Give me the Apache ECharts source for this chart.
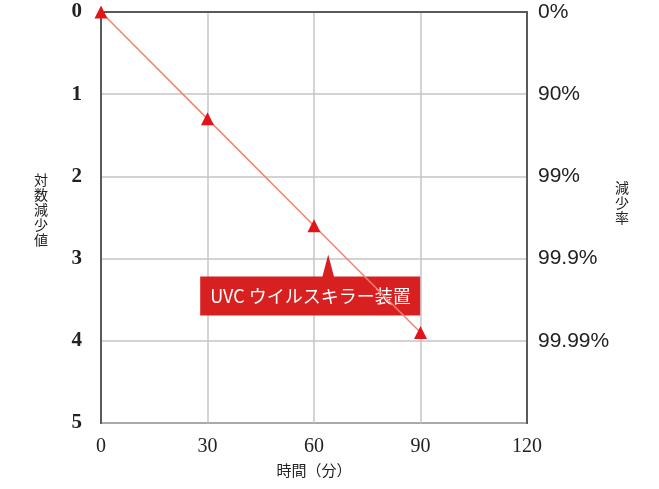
<!DOCTYPE html>
<html>
<head>
<meta charset="utf-8">
<script src="https://cdn.jsdelivr.net/npm/echarts@6/dist/echarts.min.js"></script>
<style>
  html, body { margin: 0; padding: 0; background: #fff; }
  #chart { width: 659px; height: 489px; }
</style>
</head>
<body>
<div id="chart"></div>
<script>
// Elapsed time (minutes) and measured log reduction
const minutes = [0, 30, 60, 90];
const logReduction = [0, 1.3, 2.6, 3.9];
// Reduction-rate labels for each log step on the right axis
const reductionRates = ['0%', '90%', '99%', '99.9%', '99.99%', ''];
const deviceName = 'UVC ウイルスキラー装置';
// Data point the callout points at
const calloutAnchor = [64, 2.95];

const chart = echarts.init(document.getElementById('chart'));
const frame = '#5a5a5a';
const gridLine = '#c4c4c4';
const red = '#e2141a';

chart.setOption({
  animation: false,
  grid: {
    left: 101, right: 132, top: 12, bottom: 66,
    show: true, borderColor: frame, borderWidth: 2, backgroundColor: 'transparent'
  },
  xAxis: {
    type: 'value', min: 0, max: 120, interval: 30,
    name: '時間（分）', nameLocation: 'middle', nameGap: 40,
    nameTextStyle: { fontFamily: 'Noto Sans CJK JP', fontSize: 15, color: '#222' },
    axisLine: { show: true, lineStyle: { color: frame, width: 2 } },
    axisTick: { show: false },
    axisLabel: { fontFamily: 'Liberation Serif', fontSize: 20, color: '#222', margin: 14 },
    splitLine: { show: true, lineStyle: { color: gridLine, width: 1.5 } }
  },
  yAxis: [{
    type: 'value', inverse: true, min: 0, max: 5, interval: 1,
    name: '対\n数\n減\n少\n値\n', nameLocation: 'middle', nameGap: 53, nameRotate: 0,
    nameTextStyle: { fontFamily: 'Noto Sans CJK JP', fontSize: 14, lineHeight: 15, color: '#222' },
    axisLine: { show: true, lineStyle: { color: frame, width: 2 } },
    axisTick: { show: false },
    axisLabel: { fontFamily: 'Liberation Serif', fontWeight: 'bold', fontSize: 21, color: '#222', margin: 19 },
    splitLine: { show: true, lineStyle: { color: gridLine, width: 1.5 } }
  }, {
    type: 'value', inverse: true, min: 0, max: 5, interval: 1, position: 'right',
    name: '減\n少\n率\n\n', nameLocation: 'middle', nameGap: 88, nameRotate: 0,
    nameTextStyle: { fontFamily: 'Noto Sans CJK JP', fontSize: 14, lineHeight: 15, color: '#222' },
    axisLine: { show: true, lineStyle: { color: frame, width: 2 } },
    axisTick: { show: false },
    axisLabel: {
      fontFamily: 'Liberation Sans', fontSize: 21, color: '#222', margin: 11,
      formatter: v => reductionRates[Math.round(v)]
    },
    splitLine: { show: false }
  }],
  series: [{
    type: 'line',
    data: minutes.map((m, i) => [m, logReduction[i]]),
    lineStyle: { color: '#f3826f', width: 1.5 },
    symbol: 'triangle', symbolSize: 13,
    itemStyle: { color: red },
    z: 5
  }]
});

// Callout box with a pointer, positioned from data coordinates
function drawCallout() {
  const tip = chart.convertToPixel({ gridIndex: 0 }, calloutAnchor);
  const boxW = 220, boxH = 39;
  const boxX = tip[0] - 128, boxY = tip[1] + 22;
  chart.setOption({
    graphic: [{
      type: 'group', z: 100,
      children: [{
        type: 'polygon',
        shape: { points: [[tip[0], tip[1]], [tip[0] - 6, boxY + 1], [tip[0] + 6, boxY + 1]] },
        style: { fill: '#d7201f' }
      }, {
        type: 'rect',
        shape: { x: boxX, y: boxY, width: boxW, height: boxH },
        style: { fill: '#d7201f' }
      }, {
        type: 'text',
        x: boxX + 10, y: boxY + boxH / 2,
        style: {
          text: deviceName, fill: '#fff', fontSize: 18,
          fontFamily: 'Noto Sans CJK JP', verticalAlign: 'middle', align: 'left'
        }
      }]
    }]
  });
}
drawCallout();
</script>
</body>
</html>
